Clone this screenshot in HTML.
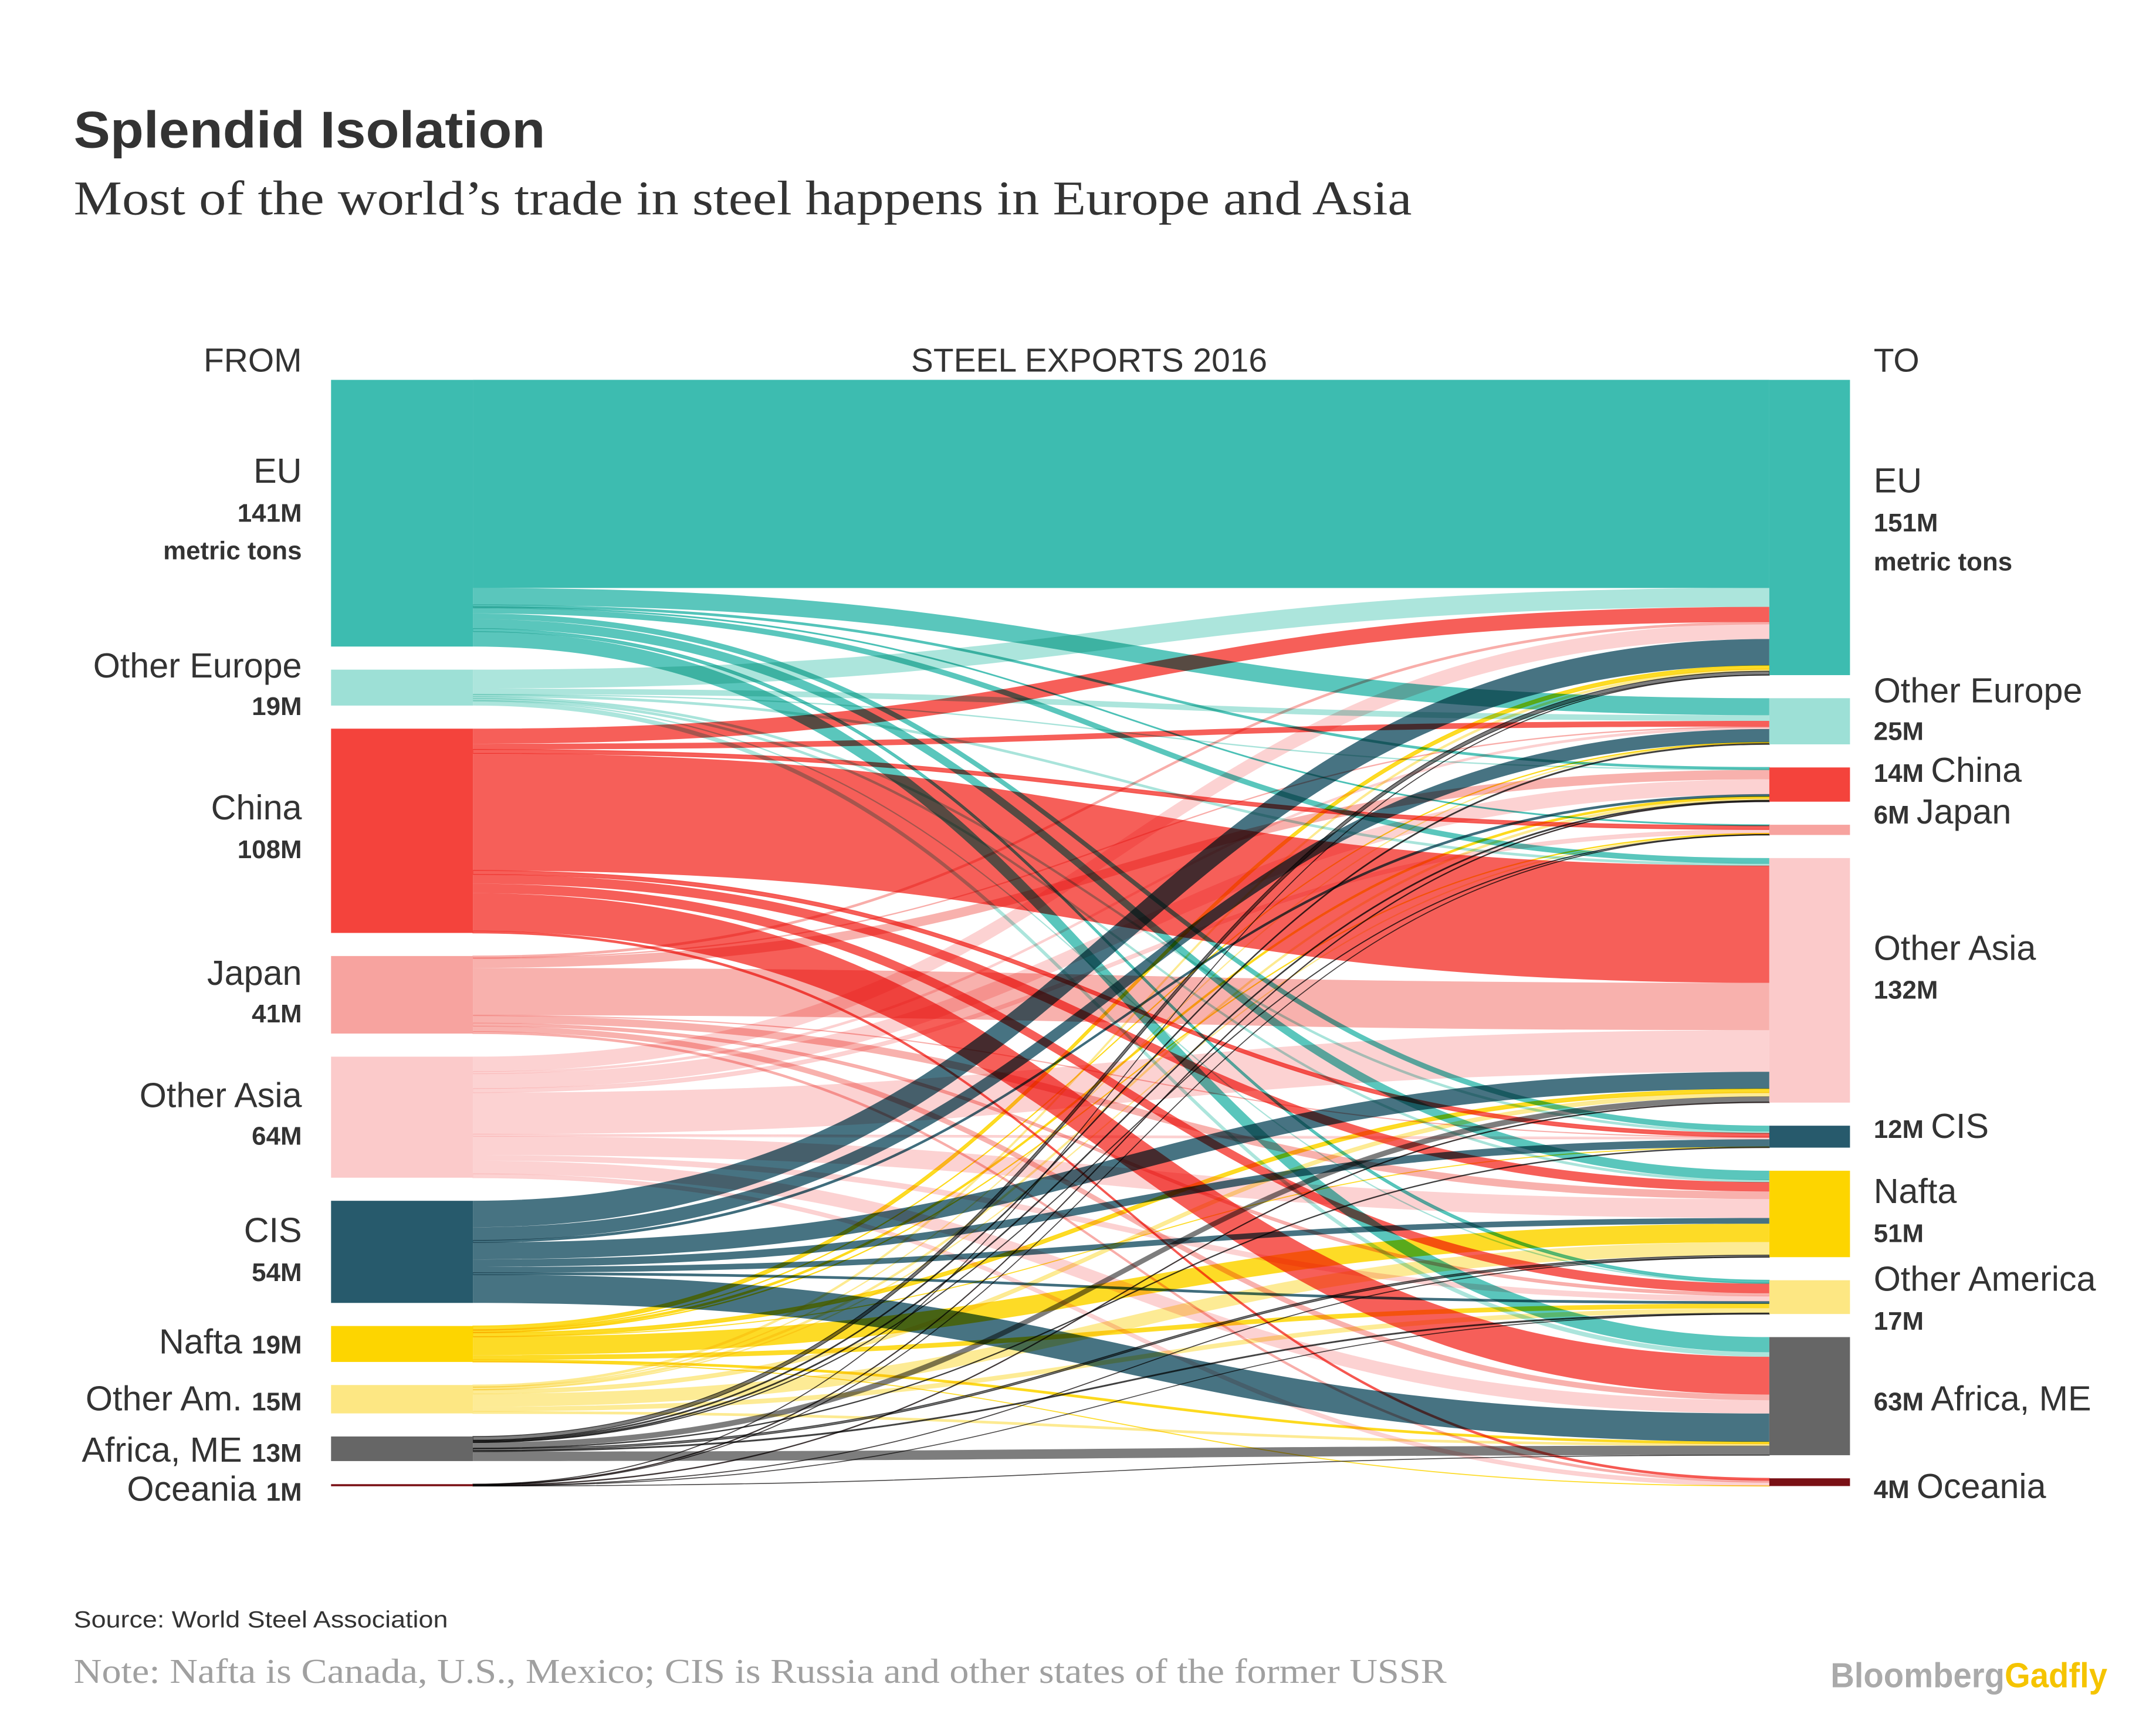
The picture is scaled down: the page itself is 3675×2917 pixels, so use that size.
<!DOCTYPE html>
<html><head><meta charset="utf-8"><style>
html,body{margin:0;padding:0;background:#fff;}
svg{display:block;}
#flows path{mix-blend-mode:multiply;}
</style></head><body>
<svg id="chart" width="3675" height="2917" viewBox="0 0 1550 1230" xmlns="http://www.w3.org/2000/svg">
<rect width="1550" height="1230" fill="#fff"/>
<text x="53" y="106" textLength="339" lengthAdjust="spacingAndGlyphs" font-family="Liberation Sans, sans-serif" font-weight="bold" font-size="37" fill="#333">Splendid Isolation</text>
<text x="53" y="154" textLength="962" lengthAdjust="spacingAndGlyphs" font-family="Liberation Serif, serif" font-size="35" fill="#333">Most of the world’s trade in steel happens in Europe and Asia</text>
<text x="217" y="267" text-anchor="end" font-family="Liberation Sans, sans-serif" font-size="24" fill="#333">FROM</text>
<text x="783" y="267" text-anchor="middle" font-family="Liberation Sans, sans-serif" font-size="24" fill="#333">STEEL EXPORTS 2016</text>
<text x="1347" y="267" font-family="Liberation Sans, sans-serif" font-size="24" fill="#333">TO</text>
<g id="flows"></g>
<g id="nodes"></g>
<g font-family="Liberation Sans, sans-serif" fill="#333" text-anchor="end" transform="translate(0,-3)">
<text x="217" y="350" font-size="25">EU</text>
<text x="217" y="378" font-size="18.5" font-weight="bold">141M</text>
<text x="217" y="405" font-size="18.5" font-weight="bold">metric tons</text>
<text x="217" y="490" font-size="25">Other Europe</text>
<text x="217" y="517" font-size="18.5" font-weight="bold">19M</text>
<text x="217" y="592" font-size="25">China</text>
<text x="217" y="620" font-size="18.5" font-weight="bold">108M</text>
<text x="217" y="711" font-size="25">Japan</text>
<text x="217" y="738" font-size="18.5" font-weight="bold">41M</text>
<text x="217" y="799" font-size="25">Other Asia</text>
<text x="217" y="826" font-size="18.5" font-weight="bold">64M</text>
<text x="217" y="896" font-size="25">CIS</text>
<text x="217" y="924" font-size="18.5" font-weight="bold">54M</text>
<text x="217" y="976"><tspan font-size="25">Nafta </tspan><tspan font-size="18.5" font-weight="bold">19M</tspan></text>
<text x="217" y="1017"><tspan font-size="25">Other Am. </tspan><tspan font-size="18.5" font-weight="bold">15M</tspan></text>
<text x="217" y="1054"><tspan font-size="25">Africa, ME </tspan><tspan font-size="18.5" font-weight="bold">13M</tspan></text>
<text x="217" y="1082"><tspan font-size="25">Oceania </tspan><tspan font-size="18.5" font-weight="bold">1M</tspan></text>
</g>
<g font-family="Liberation Sans, sans-serif" fill="#333" transform="translate(0,-3)">
<text x="1347" y="357" font-size="25">EU</text>
<text x="1347" y="385" font-size="18.5" font-weight="bold">151M</text>
<text x="1347" y="413" font-size="18.5" font-weight="bold">metric tons</text>
<text x="1347" y="508" font-size="25">Other Europe</text>
<text x="1347" y="535" font-size="18.5" font-weight="bold">25M</text>
<text x="1347" y="565"><tspan font-size="18.5" font-weight="bold">14M </tspan><tspan font-size="25">China</tspan></text>
<text x="1347" y="595"><tspan font-size="18.5" font-weight="bold">6M </tspan><tspan font-size="25">Japan</tspan></text>
<text x="1347" y="693" font-size="25">Other Asia</text>
<text x="1347" y="721" font-size="18.5" font-weight="bold">132M</text>
<text x="1347" y="821"><tspan font-size="18.5" font-weight="bold">12M </tspan><tspan font-size="25">CIS</tspan></text>
<text x="1347" y="868" font-size="25">Nafta</text>
<text x="1347" y="896" font-size="18.5" font-weight="bold">51M</text>
<text x="1347" y="931" font-size="25">Other America</text>
<text x="1347" y="959" font-size="18.5" font-weight="bold">17M</text>
<text x="1347" y="1017"><tspan font-size="18.5" font-weight="bold">63M </tspan><tspan font-size="25">Africa, ME</tspan></text>
<text x="1347" y="1080"><tspan font-size="18.5" font-weight="bold">4M </tspan><tspan font-size="25">Oceania</tspan></text>
</g>
<text x="53" y="1170" textLength="269" lengthAdjust="spacingAndGlyphs" font-family="Liberation Sans, sans-serif" font-size="17" fill="#333">Source: World Steel Association</text>
<text x="53" y="1210" textLength="987" lengthAdjust="spacingAndGlyphs" font-family="Liberation Serif, serif" font-size="25" fill="#a0a0a0">Note: Nafta is Canada, U.S., Mexico; CIS is Russia and other states of the former USSR</text>
<text x="1316" y="1213" textLength="199" lengthAdjust="spacingAndGlyphs" font-family="Liberation Sans, sans-serif" font-size="25" font-weight="bold"><tspan fill="#aaaaaa">Bloomberg</tspan><tspan fill="#f5c400">Gadfly</tspan></text>
</svg>
<script>
const regions = ["EU","Other Europe","China","Japan","Other Asia","CIS","Nafta","Other America","Africa, ME","Oceania"];
const colors = ["#3dbcb0","#9de0d6","#f4433c","#f7a39f","#fbcaca","#275a6c","#fdd500","#fde783","#666666","#7a1015"];
// flows[source][destination], million metric tons
const fromEU = [110,9,1,0.5,3,3,5,1.5,8,0];
const fromOtherEurope = [10,3,0.3,0,1,1,1,0.3,2.4,0];
const fromChina = [8,3,0,2,62,2,5,5,20,1];
const fromJapan = [1,0.3,5,0,25,0.2,4,1.5,3,1];
const fromOtherAsia = [8,1,8,2,22,1,10,3,7,2];
const fromCIS = [14,7,1,0,9,4,3,1,15,0];
const fromNafta = [2,0.3,1,0.3,2,0.1,9.7,2.5,1,0.1];
const fromOtherAm = [1,0.3,1,0.3,2,0,6.9,2.5,1,0];
const fromAfricaME = [2,0.5,0.5,0.2,3,0.3,1,0.5,5,0];
const fromOceania = [0.1,0,0.3,0.1,0.3,0,0.1,0.05,0.05,0];
const flows = [fromEU,fromOtherEurope,fromChina,fromJapan,fromOtherAsia,fromCIS,fromNafta,fromOtherAm,fromAfricaME,fromOceania];

const NS="http://www.w3.org/2000/svg";
const kScale=1.36, gapY=16.6, topY=273;
const xL0=238,xL1=340,xR0=1272,xR1=1330;
const nReg=regions.length;
const srcTot=flows.map(r=>r.reduce((a,b)=>a+b,0));
const dstTot=regions.map((_,j)=>flows.reduce((a,r)=>a+r[j],0));
function positions(tots){let y=topY;return tots.map(t=>{const s=y;y+=t*kScale+gapY;return s;});}
const srcY=positions(srcTot), dstY=positions(dstTot);
const srcOff=srcY.slice(), dstOff=dstY.slice();
const paths=[];
for(let i=0;i<nReg;i++){for(let j=0;j<nReg;j++){const v=flows[i][j];if(v<=0)continue;
 const h=v*kScale;const y0=srcOff[i];srcOff[i]+=h;const y1=dstOff[j];dstOff[j]+=h;paths.push({i,j,y0,y1,h});}}
const fg=document.getElementById('flows');
const xm=(xL1+xR0)/2;
paths.sort((a,b)=>b.h-a.h);
paths.forEach(p=>{
 const el=document.createElementNS(NS,'path');
 const d=`M${xL1},${p.y0} C${xm},${p.y0} ${xm},${p.y1} ${xR0},${p.y1} L${xR0},${p.y1+p.h} C${xm},${p.y1+p.h} ${xm},${p.y0+p.h} ${xL1},${p.y0+p.h} Z`;
 el.setAttribute('d',d);
 el.setAttribute('fill',colors[p.i]);
 el.setAttribute('fill-opacity','0.85');
 if(p.h<3){el.setAttribute('stroke',p.i>=8?'#222':colors[p.i]);el.setAttribute('stroke-width','0.6');el.setAttribute('stroke-opacity','0.8');}
 
 
 fg.appendChild(el);
});
const ng=document.getElementById('nodes');
for(let i=0;i<nReg;i++){
 const r=document.createElementNS(NS,'rect');
 r.setAttribute('x',xL0);r.setAttribute('y',srcY[i]);r.setAttribute('width',xL1-xL0);r.setAttribute('height',Math.max(srcTot[i]*kScale,1.5));r.setAttribute('fill',colors[i]);
 
 
 ng.appendChild(r);
 const q=document.createElementNS(NS,'rect');
 q.setAttribute('x',xR0);q.setAttribute('y',dstY[i]);q.setAttribute('width',xR1-xR0);q.setAttribute('height',Math.max(dstTot[i]*kScale,1.5));q.setAttribute('fill',colors[i]);
 
 
 ng.appendChild(q);
}
const eu=document.createElementNS(NS,'rect');
eu.setAttribute('x',xL1);eu.setAttribute('y',topY);eu.setAttribute('width',xR0-xL1);eu.setAttribute('height',flows[0][0]*kScale);eu.setAttribute('fill',colors[0]);


ng.appendChild(eu);
</script>
</body></html>
